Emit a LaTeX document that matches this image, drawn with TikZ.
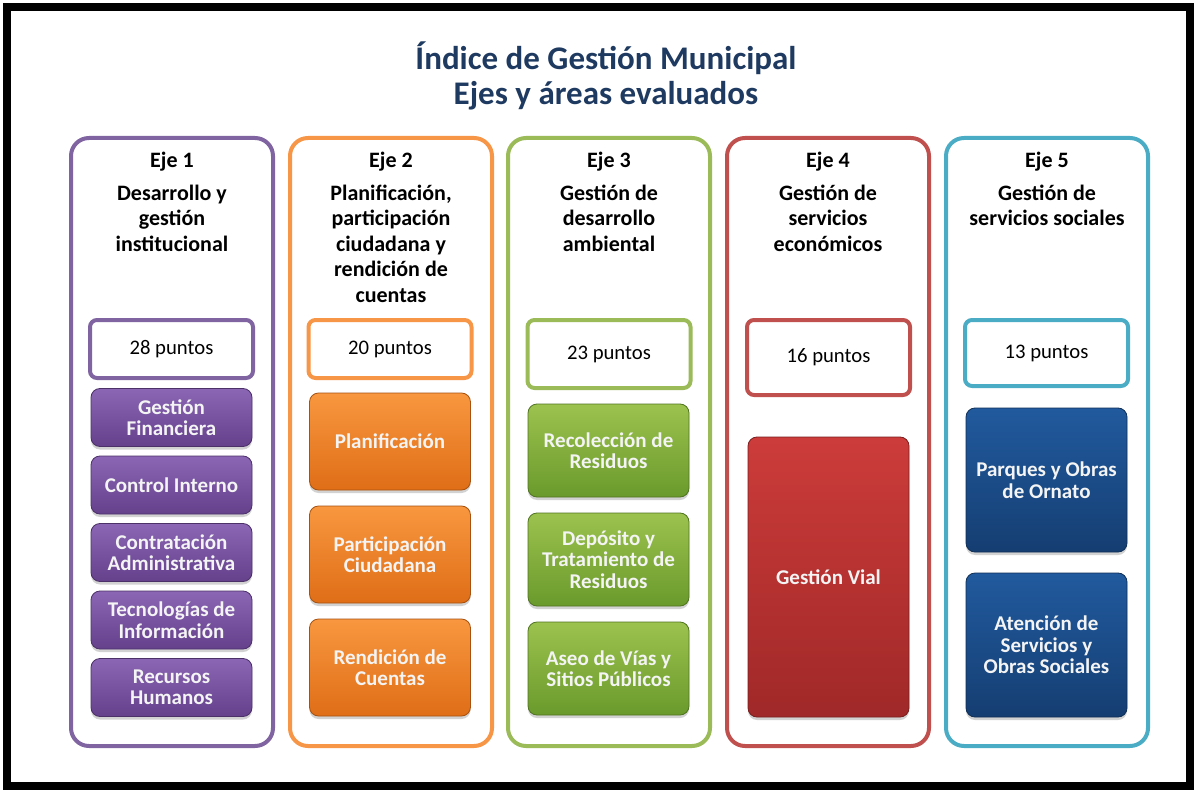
\documentclass[tikz,border=0pt]{standalone}
\usepackage{fontspec}
\setmainfont{Carlito}
\usetikzlibrary{shadows}
\definecolor{cpur}{HTML}{8064A2}
\definecolor{cora}{HTML}{F79646}
\definecolor{cgre}{HTML}{9BBB59}
\definecolor{cred}{HTML}{C0504D}
\definecolor{caqu}{HTML}{4BACC6}
\definecolor{ptop}{HTML}{8A66B4}
\definecolor{pbot}{HTML}{65418C}
\definecolor{otop}{HTML}{F8973F}
\definecolor{obot}{HTML}{DF6E17}
\definecolor{gtop}{HTML}{9CC24E}
\definecolor{gbot}{HTML}{6A9A2C}
\definecolor{rtop}{HTML}{CC3C3A}
\definecolor{rbot}{HTML}{A02828}
\definecolor{btop}{HTML}{215A9E}
\definecolor{bbot}{HTML}{153E72}
\definecolor{titlec}{HTML}{1F3A60}
\definecolor{boxtxt}{HTML}{F4F4F4}
\begin{document}
\begin{tikzpicture}[x=1pt,y=-1pt,
  frame/.style={draw=black, line width=8pt},
  title/.style={font=\fontsize{33}{36}\selectfont\bfseries, text=titlec, inner sep=0},
  col/.style={draw=#1, line width=4pt, rounded corners=18pt, minimum width=202pt, minimum height=608pt, inner sep=0, fill=white},
  hdr/.style={align=center, font=\fontsize{22}{25.5}\selectfont\bfseries, anchor=north, inner sep=0},
  pts/.style={draw=#1, line width=4pt, rounded corners=7pt, fill=white, minimum width=163pt, font=\fontsize{20.7}{22}\selectfont, inner sep=0},
  area/.style 2 args={top color=#1, bottom color=#2, draw=#2!75!black, line width=0.8pt, rounded corners=9pt, minimum width=161pt, inner sep=0, align=center, text=boxtxt, font=\fontsize{21}{21.5}\selectfont\bfseries, drop shadow={shadow xshift=0pt, shadow yshift=-3pt, opacity=0.35}}
]
\path[use as bounding box] (0,0) rectangle (1198,791);
\draw[frame] (7,7) rectangle (1190,786);

\node[title] (t1) at (606,58) {Índice de Gestión Municipal};
\node[title] (t2) at (606,96) {Ejes y áreas evaluados};

% columns
\node[col=cpur] (c1) at (172,442) {};
\node[col=cora] (c2) at (391,442) {};
\node[col=cgre] (c3) at (609,442) {};
\node[col=cred] (c4) at (828,442) {};
\node[col=caqu] (c5) at (1047,442) {};

% headers
\node[hdr] (h1) at (172,152) {Eje 1\\[7pt]Desarrollo y\\gestión\\institucional};
\node[hdr] (h2) at (391,152) {Eje 2\\[7pt]Planificación,\\participación\\ciudadana y\\rendición de\\cuentas};
\node[hdr] (h3) at (609,152) {Eje 3\\[7pt]Gestión de\\desarrollo\\ambiental};
\node[hdr] (h4) at (828,152) {Eje 4\\[7pt]Gestión de\\servicios\\económicos};
\node[hdr] (h5) at (1047,152) {Eje 5\\[7pt]Gestión de\\servicios sociales};

% points
\node[pts=cpur, minimum height=58pt] (p1) at (171.5,349) {28 puntos};
\node[pts=cora, minimum height=58pt] (p2) at (390,349) {20 puntos};
\node[pts=cgre, minimum height=68pt] (p3) at (609,354) {23 puntos};
\node[pts=cred, minimum height=75pt] (p4) at (828.5,357.5) {16 puntos};
\node[pts=caqu, minimum height=66pt] (p5) at (1046.5,353) {13 puntos};

% eje 1 areas
\node[area={ptop}{pbot}, minimum height=58pt] (a11) at (171.5,417.5) {Gestión\\Financiera};
\node[area={ptop}{pbot}, minimum height=58pt] (a12) at (171.5,485) {Control Interno};
\node[area={ptop}{pbot}, minimum height=58pt] (a13) at (171.5,552.5) {Contratación\\Administrativa};
\node[area={ptop}{pbot}, minimum height=58pt] (a14) at (171.5,620) {Tecnologías de\\Información};
\node[area={ptop}{pbot}, minimum height=58pt] (a15) at (171.5,687.5) {Recursos\\Humanos};

% eje 2 areas
\node[area={otop}{obot}, minimum height=97pt] (a21) at (390,441.5) {Planificación};
\node[area={otop}{obot}, minimum height=97pt] (a22) at (390,554.5) {Participación\\Ciudadana};
\node[area={otop}{obot}, minimum height=97pt] (a23) at (390,667.5) {Rendición de\\Cuentas};

% eje 3 areas
\node[area={gtop}{gbot}, minimum height=93pt] (a31) at (608.5,450.5) {Recolección de\\Residuos};
\node[area={gtop}{gbot}, minimum height=93pt] (a32) at (608.5,559.5) {Depósito y\\Tratamiento de\\Residuos};
\node[area={gtop}{gbot}, minimum height=93pt] (a33) at (608.5,668.5) {Aseo de Vías y\\Sitios Públicos};

% eje 4 area
\node[area={rtop}{rbot}, minimum height=280pt] (a41) at (828.5,577) {Gestión Vial};

% eje 5 areas
\node[area={btop}{bbot}, minimum height=144pt] (a51) at (1046.5,480) {Parques y Obras\\de Ornato};
\node[area={btop}{bbot}, minimum height=144pt] (a52) at (1046.5,645) {Atención de\\Servicios y\\Obras Sociales};
\end{tikzpicture}
\end{document}
